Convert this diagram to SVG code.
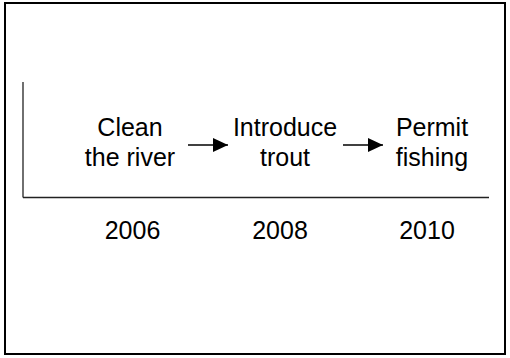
<svg xmlns="http://www.w3.org/2000/svg" width="510" height="358" viewBox="0 0 510 358">
  <style>
    .lbl { font-family: "Liberation Sans", Arial, sans-serif; font-size: 25px; fill: #000; text-anchor: middle; }
    .axis { stroke: #222; stroke-width: 1.3; fill: none; }
    .link { stroke: #000; stroke-width: 1.3; fill: none; }
  </style>
  <defs>
    <marker id="head" markerWidth="16" markerHeight="14" refX="15" refY="7" orient="auto" markerUnits="userSpaceOnUse">
      <path d="M0,0 L15,7 L0,14 Z" fill="#000"/>
    </marker>
  </defs>
  <rect x="0" y="0" width="510" height="358" fill="#fff"/>
  <!-- frame -->
  <rect x="5" y="3" width="500" height="351" fill="none" stroke="#000" stroke-width="2"/>
  <!-- axes -->
  <g id="axes">
    <line class="axis" x1="23" y1="82" x2="23" y2="197.5"/>
    <line class="axis" x1="23" y1="197.5" x2="489" y2="197.5"/>
  </g>
  <g id="step-clean">
    <text class="lbl" x="130" y="136">Clean</text>
    <text class="lbl" x="130" y="166">the river</text>
  </g>
  <g id="step-trout">
    <text class="lbl" x="285" y="136">Introduce</text>
    <text class="lbl" x="285" y="166">trout</text>
  </g>
  <g id="step-fishing">
    <text class="lbl" x="432" y="136">Permit</text>
    <text class="lbl" x="432" y="166">fishing</text>
  </g>
  <g id="years">
    <text class="lbl" x="132.5" y="239">2006</text>
    <text class="lbl" x="280" y="239">2008</text>
    <text class="lbl" x="427" y="239">2010</text>
  </g>
  <g id="connectors">
    <line class="link" x1="188" y1="145" x2="228" y2="145" marker-end="url(#head)"/>
    <line class="link" x1="343" y1="145" x2="383" y2="145" marker-end="url(#head)"/>
  </g>
</svg>
